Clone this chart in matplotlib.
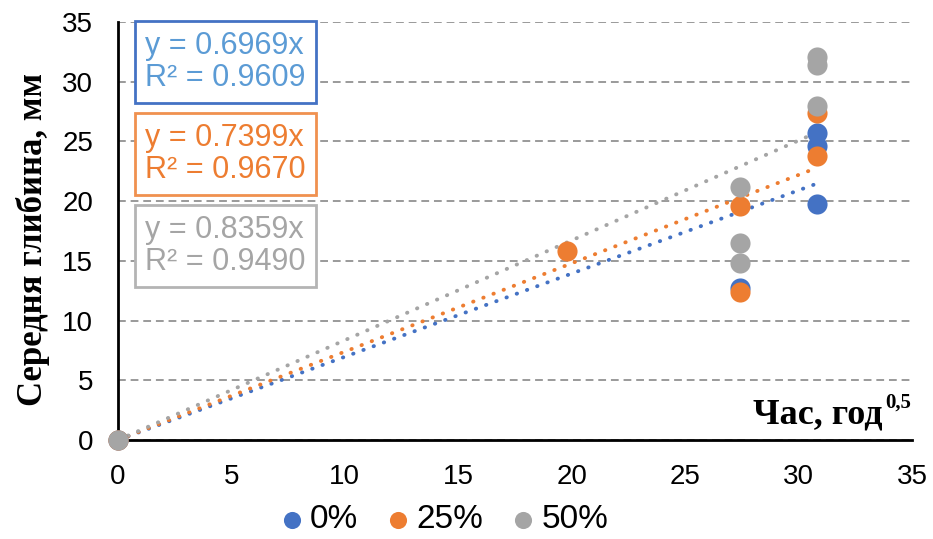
import numpy as np
import matplotlib
matplotlib.use("Agg")
import matplotlib.pyplot as plt

# дані
labels = ["0%", "25%", "50%"]
x_0 = [0, 27.4, 30.8, 30.8, 30.8]
y_0 = [0, 12.7, 19.8, 24.6, 25.7]
x_25 = [0, 19.8, 27.4, 27.4, 30.8, 30.8]
y_25 = [0, 15.8, 12.4, 19.6, 23.8, 27.4]
x_50 = [0, 27.4, 27.4, 27.4, 30.8, 30.8, 30.8]
y_50 = [0, 14.8, 16.5, 21.2, 28.0, 31.4, 32.1]
slopes = [0.6969, 0.7399, 0.8359]
r2 = [0.9609, 0.9670, 0.9490]

colors = ["#4472C4", "#ED7D31", "#A5A5A5"]
text_colors = ["#5B9BD5", "#ED7D31", "#A5A5A5"]
edge_colors = ["#4472C4", "#F0914F", "#B4B4B4"]

plt.rcParams["font.family"] = ["Liberation Sans", "DejaVu Sans"]

fig = plt.figure(figsize=(9.33, 5.39), dpi=100)
ax = fig.add_axes([118 / 933, 99 / 539, 794 / 933, 418 / 539])

series = [(x_0, y_0), (x_25, y_25), (x_50, y_50)]
for (xs, ys), c, lab in zip(series, colors, labels):
    ax.scatter(xs, ys, s=210, color=c, label=lab, zorder=3, clip_on=False,
               linewidths=0)

# лінії тренду через початок координат
for k, c, (xs, ys) in zip(slopes, colors, series):
    xx = np.linspace(0, max(xs), 50)
    ax.plot(xx, k * xx, color=c, lw=2.8, linestyle=(0, (0.1, 2.7)),
            dash_capstyle="round", zorder=2)

ax.set_xlim(0, 35)
ax.set_ylim(0, 35)
ax.set_xticks(range(0, 36, 5))
ax.set_yticks(range(0, 36, 5))
ax.tick_params(length=0, labelsize=20)
ax.tick_params(axis="x", pad=17)
ax.tick_params(axis="y", pad=18)
ax.yaxis.grid(True, color="#9A9A9A", linestyle=(0, (4, 2.5)), lw=1.4)
ax.set_axisbelow(True)
for s in ["top", "right"]:
    ax.spines[s].set_visible(False)
for s in ["left", "bottom"]:
    ax.spines[s].set_linewidth(2)
    ax.spines[s].set_color("black")

ax.set_ylabel("Середня глибина, мм", fontsize=25, fontweight="bold",
              family="Liberation Serif")
ax.yaxis.set_label_coords(-0.086, 0.48)
ax.text(33.72, 1.34, "Час, год", fontsize=26, fontweight="bold",
        family="Liberation Serif", ha="right", va="baseline")
ax.text(33.8, 2.75, "0,5", fontsize=15, fontweight="bold",
        family="Liberation Serif", ha="left", va="baseline")

# рівняння трендів
box_y = [62, 154, 246]
for k, r, tc, ec, yy in zip(slopes, r2, text_colors, edge_colors, box_y):
    fig.text(145 / 933, 1 - yy / 539, f"y = {k:.4f}x\nR² = {r:.4f}",
             fontsize=22, color=tc, ha="left", va="center", linespacing=1.05,
             bbox=dict(boxstyle="square,pad=0.33", fc="white", ec=ec, lw=2))

fig.legend(loc="center", bbox_to_anchor=(0.478, 1 - 520 / 539), ncol=3,
           frameon=False, fontsize=24, markerscale=0.85, handlelength=0.5,
           handletextpad=0.3, columnspacing=0.95, scatterpoints=1,
           borderpad=0)

fig.savefig("out.png", dpi=100)
